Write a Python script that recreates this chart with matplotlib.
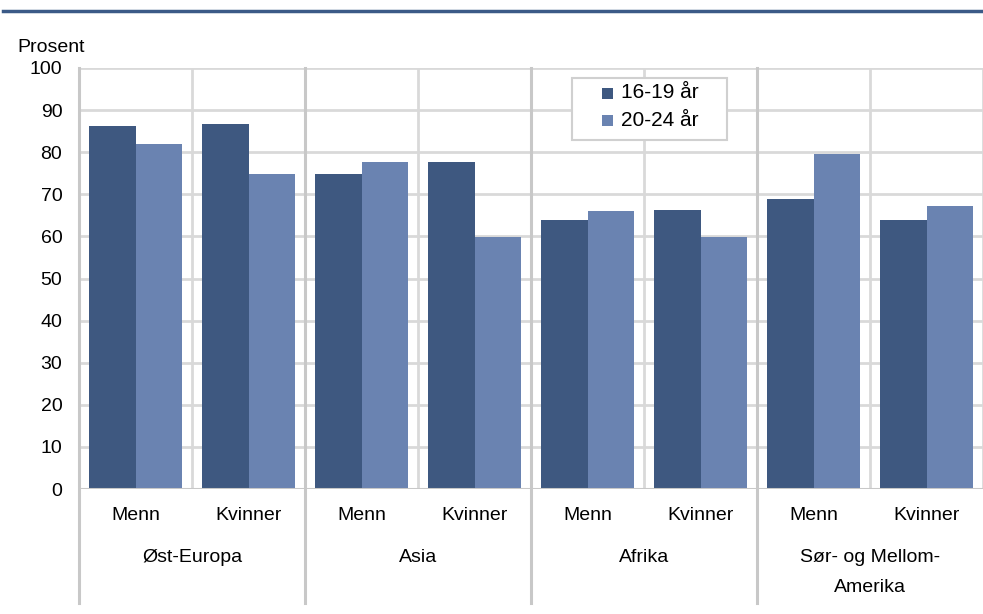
import matplotlib
matplotlib.use("Agg")
import matplotlib.pyplot as plt
from matplotlib.lines import Line2D
from matplotlib.patches import Rectangle
import numpy as np

plt.rcParams['font.family'] = ['Liberation Sans', 'DejaVu Sans']

groups = ["Øst-Europa", "Asia", "Afrika", "Sør- og Mellom-\nAmerika"]
sexes = ["Menn", "Kvinner"]
series_names = ["16-19 år", "20-24 år"]
vals_16_19 = [86.2, 86.7, 74.8, 77.7, 64.0, 66.3, 68.8, 64.0]
vals_20_24 = [81.9, 74.8, 77.7, 59.8, 66.0, 59.8, 79.6, 67.2]
yticks = list(range(0, 101, 10))

dark = '#3e5880'
light = '#6a83b1'
colors = [dark, light]
grid = '#d9d9d9'
FS = 14

W, H = 983, 614
fig = plt.figure(figsize=(W / 100, H / 100), dpi=100)
ax = fig.add_axes([79/W, 1-489/H, 904/W, 421/H])

def fx(px):
    return px / W

def fy(py):
    return 1 - py / H

n = len(vals_16_19)
x = np.arange(n)
w = 0.415
ax.bar(x - w/2, vals_16_19, width=w, color=dark, label=series_names[0], zorder=3)
ax.bar(x + w/2, vals_20_24, width=w, color=light, label=series_names[1], zorder=3)

ax.set_xlim(-0.5, n - 0.5)
ax.set_ylim(0, 100)
ax.set_yticks(yticks)
ax.set_yticklabels([str(t) for t in yticks], fontsize=FS)
ax.tick_params(axis='y', length=0, pad=12)
ax.set_xticks([])
for s in ax.spines.values():
    s.set_visible(False)

# grid
for t in yticks:
    ax.axhline(t, color=grid, lw=2.0, zorder=1)
for k in range(n):
    ax.axvline(k + 0.5, color=grid, lw=2.0, zorder=1)
ax.axhline(0, color='#c8c8c8', lw=2.2, zorder=4)

# left spine extended down + group separators
ext = -(603 - 489) / 421
for xb in [-0.5, 1.5, 3.5, 5.5]:
    ax.add_line(Line2D([xb, xb], [ext, 1.0], transform=ax.get_xaxis_transform(),
                       color='#c8c8c8', lw=2.2, clip_on=False, zorder=4))

# category labels
trans = ax.get_xaxis_transform()
for i in range(n):
    ax.text(x[i], -(515 - 489) / 421, sexes[i % 2], transform=trans,
            ha='center', va='center', fontsize=FS)
for g, name in enumerate(groups):
    lines = name.split('\n')
    for j, ln in enumerate(lines):
        ax.text(2 * g + 0.5, -(557 - 489 + j * 31) / 421, ln, transform=trans,
                ha='center', va='center', fontsize=FS)

# legend (drawn manually to match the padded box)
fig.add_artist(Rectangle((fx(572), fy(140)), fx(727) - fx(572), fy(78) - fy(140),
                         transform=fig.transFigure, facecolor='white',
                         edgecolor='#d0d0d0', lw=1.5, zorder=6))
row_y = [93, 120]
sq = 11
for name, c, ry in zip(series_names, colors, row_y):
    fig.add_artist(Rectangle((fx(602), fy(ry + sq / 2)), sq / W, sq / H,
                             transform=fig.transFigure, facecolor=c,
                             edgecolor='none', zorder=7))
    fig.text(fx(621), fy(ry), name, ha='left', va='center', fontsize=15, zorder=8)

# y label
fig.text(17/W, 1 - 47/H, "Prosent", ha='left', va='center', fontsize=FS)

# top blue rule
fig.add_artist(Line2D([3/W, 1.0], [1 - 11/H, 1 - 11/H], color='#3b5a87', lw=2.5))

fig.savefig("out.png", dpi=100)
